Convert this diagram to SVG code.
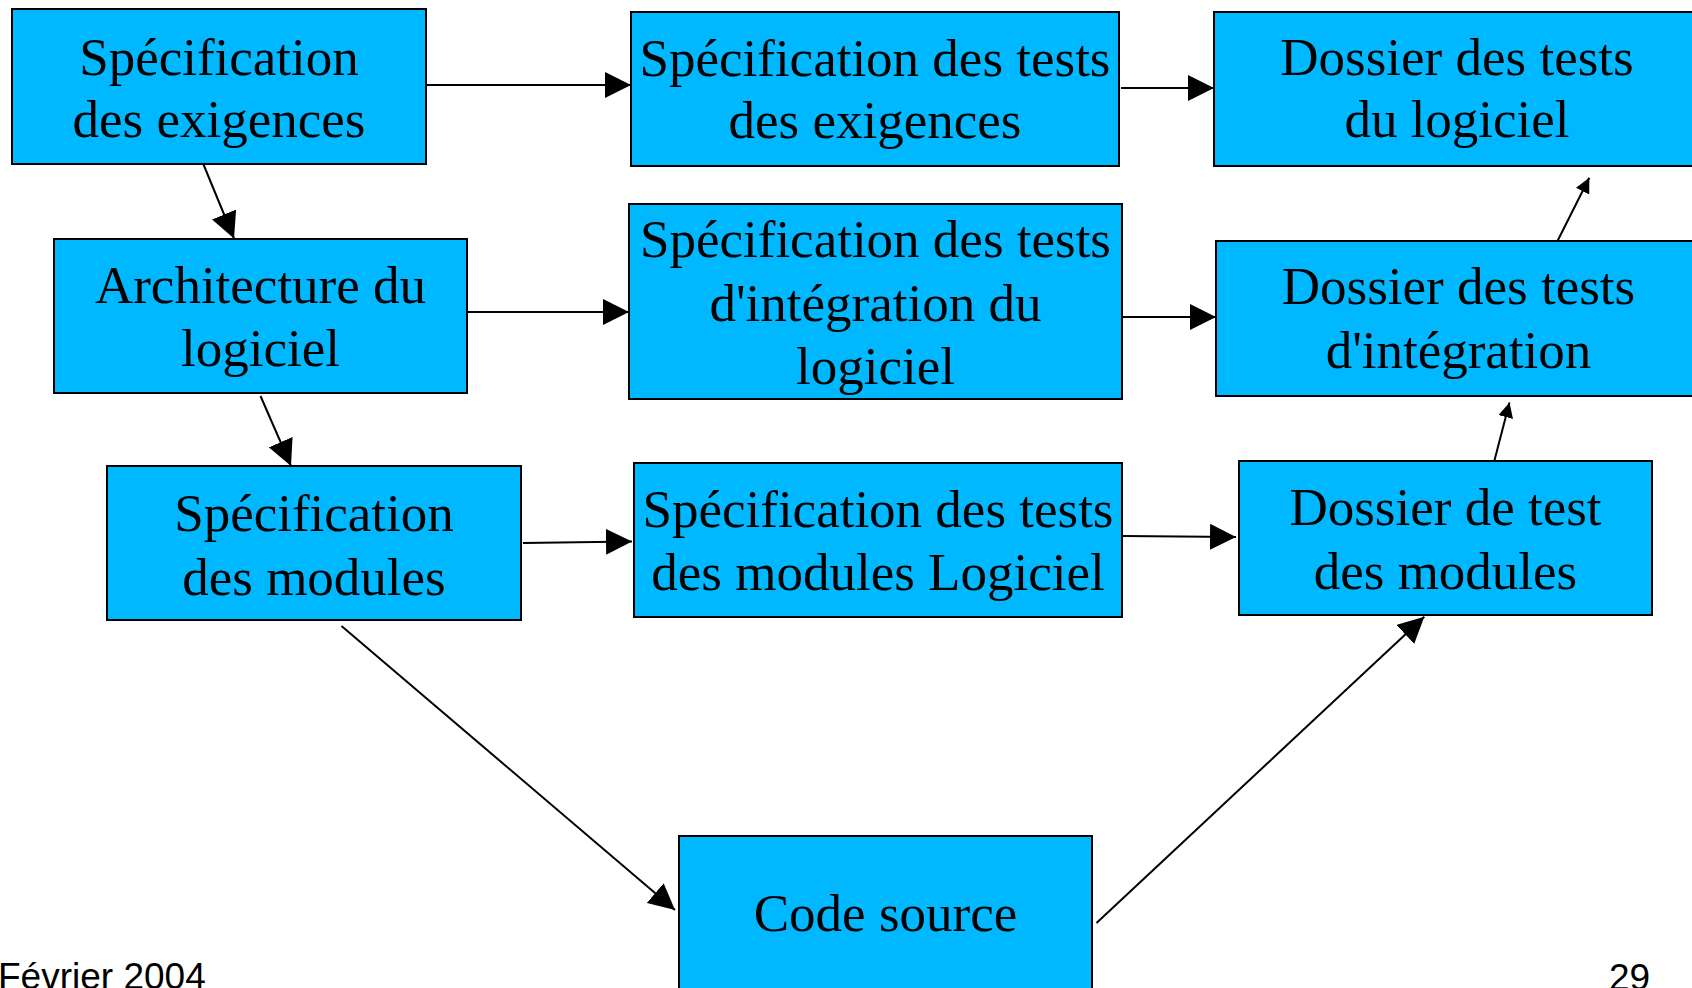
<svg xmlns="http://www.w3.org/2000/svg" width="1692" height="988" viewBox="0 0 1692 988">
<style>
.box{fill:#00B8FF;stroke:#000;stroke-width:2}
.t{font-family:"Liberation Serif","Times New Roman",serif;font-size:53px;fill:#000;text-anchor:middle}
.f{font-family:"Liberation Sans",Arial,sans-serif;font-size:37px;fill:#000}
.c{stroke:#000;stroke-width:2;fill:none}
.big{marker-end:url(#ab)}
.small{marker-end:url(#as)}
</style>
<defs>
<marker id="ab" markerUnits="userSpaceOnUse" viewBox="0 0 26 26" refX="26" refY="13" markerWidth="26" markerHeight="26" orient="auto">
<path d="M0,0 L26,13 L0,26 z" fill="#000"/>
</marker>
<marker id="as" markerUnits="userSpaceOnUse" viewBox="0 0 15 15" refX="15" refY="7.5" markerWidth="15" markerHeight="15" orient="auto">
<path d="M0,0 L15,7.5 L0,15 z" fill="#000"/>
</marker>
</defs>
<rect width="1692" height="988" fill="#fff"/>
<g id="connectors">
<line class="c big" x1="426" y1="85" x2="631" y2="85"/>
<line class="c big" x1="1121" y1="88" x2="1214" y2="88"/>
<line class="c big" x1="467" y1="312" x2="629" y2="312"/>
<line class="c big" x1="1122" y1="317" x2="1216" y2="317"/>
<line class="c big" x1="523" y1="543" x2="632" y2="541.5"/>
<line class="c big" x1="1123" y1="536" x2="1236" y2="537"/>
<line class="c big" x1="203.5" y1="164.5" x2="234" y2="238.5"/>
<line class="c big" x1="260.5" y1="396" x2="291" y2="466"/>
<line class="c big" x1="341.5" y1="626" x2="675" y2="910"/>
<line class="c big" x1="1096.5" y1="923" x2="1424.3" y2="616.7"/>
<line class="c small" x1="1493" y1="466" x2="1509.5" y2="402.5"/>
<line class="c small" x1="1557.5" y1="241" x2="1589.3" y2="177.7"/>
</g>
<g id="n1"><rect class="box" x="12" y="9" width="414" height="155"/><text class="t" x="219" y="75">Spécification</text><text class="t" x="219" y="137">des exigences</text></g>
<g id="n2"><rect class="box" x="631" y="12" width="488" height="154"/><text class="t" x="875" y="76">Spécification des tests</text><text class="t" x="875" y="138">des exigences</text></g>
<g id="n3"><rect class="box" x="1214" y="12" width="490" height="154"/><text class="t" x="1457" y="75">Dossier des tests</text><text class="t" x="1457" y="137">du logiciel</text></g>
<g id="n4"><rect class="box" x="54" y="239" width="413" height="154"/><text class="t" x="260.5" y="303">Architecture du</text><text class="t" x="260.5" y="366">logiciel</text></g>
<g id="n5"><rect class="box" x="629" y="204" width="493" height="195"/><text class="t" x="875.5" y="257">Spécification des tests</text><text class="t" x="875.5" y="321">d'intégration du</text><text class="t" x="875.5" y="384">logiciel</text></g>
<g id="n6"><rect class="box" x="1216" y="241" width="488" height="155"/><text class="t" x="1458.5" y="304">Dossier des tests</text><text class="t" x="1458.5" y="368">d'intégration</text></g>
<g id="n7"><rect class="box" x="107" y="466" width="414" height="154"/><text class="t" x="314" y="531">Spécification</text><text class="t" x="314" y="595">des modules</text></g>
<g id="n8"><rect class="box" x="634" y="463" width="488" height="154"/><text class="t" x="878" y="527">Spécification des tests</text><text class="t" x="878" y="590">des modules Logiciel</text></g>
<g id="n9"><rect class="box" x="1239" y="461" width="413" height="154"/><text class="t" x="1445.5" y="525">Dossier de test</text><text class="t" x="1445.5" y="588.5">des modules</text></g>
<g id="n10"><rect class="box" x="679" y="836" width="413" height="170"/><text class="t" x="885.5" y="931">Code source</text></g>
<g id="footer"><text class="f" x="-2" y="989">Février 2004</text><text class="f" x="1609" y="990">29</text></g>
</svg>
